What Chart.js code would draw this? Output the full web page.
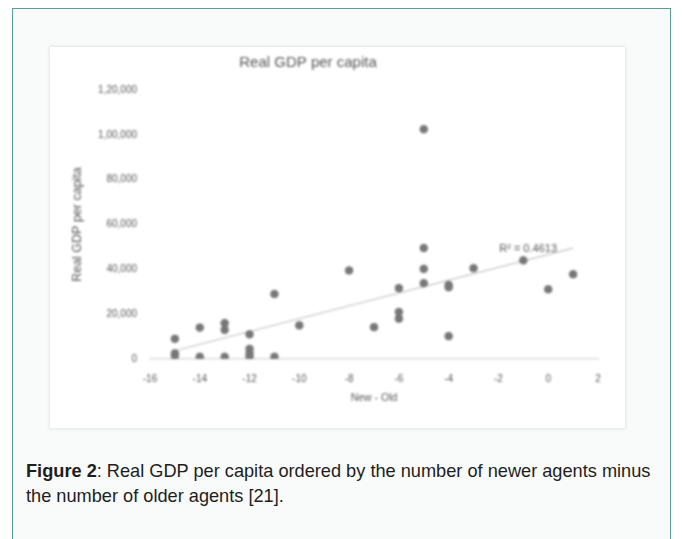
<!DOCTYPE html>
<html>
<head>
<meta charset="utf-8">
<script src="https://cdn.jsdelivr.net/npm/chart.js@4"></script>
<style>
  html, body { margin: 0; padding: 0; background: #ffffff; }
  body { width: 682px; height: 539px; position: relative; overflow: hidden; font-family: "Liberation Sans", Arial, sans-serif; }
  .figure-box {
    position: absolute; left: 12px; top: 8px; width: 659px; height: 560px;
    border: 1.5px solid #5a9c9c; background: #f9fafa; box-sizing: border-box;
  }
  .chart-frame {
    position: absolute; left: 50px; top: 47px; width: 575px; height: 381px;
    background: #ffffff; box-shadow: 0 0 3px 1px rgba(0,0,0,0.09);
  }
  .chart-frame canvas { filter: blur(0.8px); }
  .caption {
    position: absolute; left: 26px; top: 459px; width: 640px;
    font-size: 18.2px; line-height: 25px; color: #1e1e1e;
  }
  .caption b { font-weight: bold; }
</style>
</head>
<body>
<div class="figure-box"></div>
<div class="chart-frame"><canvas id="gdp"></canvas></div>
<div class="caption"><b>Figure 2</b>: Real GDP per capita ordered by the number of newer agents minus the number of older agents [21].</div>
<script>
// Difference between newer and older agents (x) and real GDP per capita (y)
const newMinusOld = [-15, -15, -15, -14, -14, -13, -13, -13, -12, -12, -12, -12, -11, -11, -10,
                     -8, -7, -6, -6, -6, -5, -5, -5, -5, -4, -4, -4, -3, -1, 0, 1];
const gdpPerCapita = [9000, 2500, 1500, 14000, 1000, 16000, 13000, 1000, 11000, 4500, 2500, 1000, 29000, 1000, 15000,
                      39500, 14200, 31600, 21000, 18000, 102500, 49500, 40200, 33800, 33000, 32000, 10200, 40500, 44000, 31100, 37800];

const xTickLabels = ['-16', '-14', '-12', '-10', '-8', '-6', '-4', '-2', '0', '2'];
const yTickLabels = ['0', '20,000', '40,000', '60,000', '80,000', '1,00,000', '1,20,000'];
const chartTitle = 'Real GDP per capita';
const rSquaredLabel = 'R² = 0.4613';

// least-squares linear trend over the observed x range
function linearTrend(xs, ys) {
  const n = xs.length;
  const mx = xs.reduce((a, b) => a + b, 0) / n;
  const my = ys.reduce((a, b) => a + b, 0) / n;
  let sxy = 0, sxx = 0;
  for (let i = 0; i < n; i++) { sxy += (xs[i] - mx) * (ys[i] - my); sxx += (xs[i] - mx) ** 2; }
  const slope = sxy / sxx;
  const intercept = my - slope * mx;
  const x0 = Math.min(...xs), x1 = Math.max(...xs);
  return [{ x: x0, y: intercept + slope * x0 }, { x: x1, y: intercept + slope * x1 }];
}
const trend = linearTrend(newMinusOld, gdpPerCapita);

const points = newMinusOld.map((x, i) => ({ x, y: gdpPerCapita[i] }));

const textColor = '#575757';
const fontFamily = '"Liberation Sans", Arial, sans-serif';

// chart heading, centred a little left of the plot's middle
const headingPlugin = {
  id: 'heading',
  afterDraw(chart) {
    const { ctx, chartArea } = chart;
    ctx.save();
    ctx.font = '15px ' + fontFamily;
    ctx.fillStyle = textColor;
    ctx.textAlign = 'center';
    ctx.textBaseline = 'middle';
    ctx.fillText(chartTitle, (chartArea.left + chartArea.right) / 2 - 66, chartArea.top - 27);
    ctx.restore();
  }
};

// R² annotation placed near the upper end of the trend line
const rSquaredPlugin = {
  id: 'rSquared',
  afterDatasetsDraw(chart) {
    const { ctx, scales } = chart;
    const last = trend[1];
    const px = scales.x.getPixelForValue(last.x) - 45;
    const py = scales.y.getPixelForValue(last.y) + 1;
    ctx.save();
    ctx.font = '11px ' + fontFamily;
    ctx.fillStyle = textColor;
    ctx.textAlign = 'center';
    ctx.textBaseline = 'middle';
    ctx.fillText(rSquaredLabel, px, py);
    ctx.restore();
  }
};

new Chart(document.getElementById('gdp'), {
  type: 'scatter',
  data: {
    datasets: [
      {
        label: 'Real GDP per capita',
        data: points,
        backgroundColor: '#777777',
        borderColor: '#777777',
        pointRadius: 3.8,
        pointHoverRadius: 3.8,
        order: 1
      },
      {
        type: 'line',
        label: 'Linear trend',
        data: trend,
        borderColor: '#c4c4c4',
        borderWidth: 1.2,
        pointRadius: 0,
        fill: false,
        order: 2
      }
    ]
  },
  options: {
    responsive: true,
    maintainAspectRatio: false,
    animation: false,
    layout: { padding: { left: 0, right: 27, top: 43, bottom: 0 } },
    plugins: {
      legend: { display: false },
      tooltip: { enabled: false },
      title: { display: false }
    },
    scales: {
      x: {
        type: 'linear',
        min: -16, max: 2,
        ticks: {
          stepSize: 2,
          color: textColor,
          font: { family: fontFamily, size: 10 },
          padding: 14,
          maxRotation: 0,
          callback: (v, i) => xTickLabels[i]
        },
        grid: { display: false, drawTicks: false },
        border: { display: true, color: '#d4d4d4', width: 1.2 },
        title: {
          display: true,
          text: 'New - Old',
          color: textColor,
          font: { family: fontFamily, size: 10.5 },
          padding: { top: 0, bottom: 24 }
        },
        afterFit(scale) { scale.height = 69; }
      },
      y: {
        type: 'linear',
        min: 0, max: 120000,
        ticks: {
          stepSize: 20000,
          color: textColor,
          font: { family: fontFamily, size: 10 },
          padding: 13,
          callback: (v, i) => yTickLabels[i]
        },
        grid: { display: false, drawTicks: false },
        border: { display: false },
        title: {
          display: true,
          text: 'Real GDP per capita',
          color: textColor,
          font: { family: fontFamily, size: 12.5 },
          padding: { top: 20, bottom: 0 }
        },
        afterFit(scale) { scale.width = 100; }
      }
    }
  },
  plugins: [headingPlugin, rSquaredPlugin]
});
</script>
</body>
</html>
